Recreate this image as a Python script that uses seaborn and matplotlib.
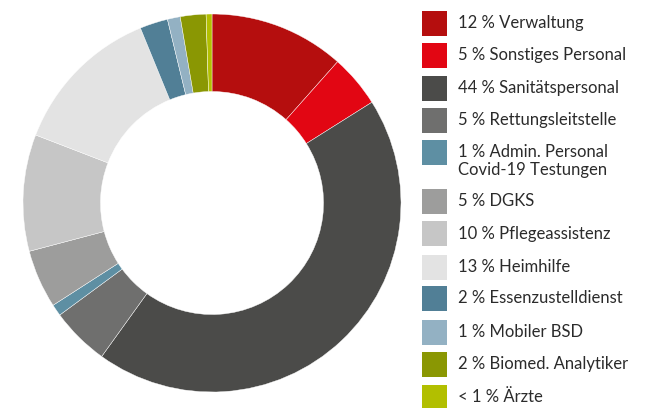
import matplotlib
matplotlib.use("Agg")
import matplotlib.pyplot as plt
from matplotlib.patches import Rectangle
import seaborn as sns

labels = ["12 % Verwaltung", "5 % Sonstiges Personal", "44 % Sanitätspersonal",
          "5 % Rettungsleitstelle", "1 % Admin. Personal\nCovid-19 Testungen",
          "5 % DGKS", "10 % Pflegeassistenz", "13 % Heimhilfe",
          "2 % Essenzustelldienst", "1 % Mobiler BSD",
          "2 % Biomed. Analytiker", "< 1 % Ärzte"]
shares = [11.6, 4.5, 44.0, 5.0, 1.0, 5.0, 10.0, 13.0, 2.4, 1.1, 2.2, 0.5]
colors = ["#B50E0E", "#E20613", "#4B4B49", "#6F6F6E", "#5E8FA3", "#9D9D9C",
          "#C6C6C6", "#E3E3E3", "#517F96", "#93B1C3", "#8A9703", "#B2BF00"]

sns.set_theme(style="white")
plt.rcParams['font.family'] = ['Lato', 'DejaVu Sans']

W, H = 651, 408
fig = plt.figure(figsize=(W / 100, H / 100), dpi=100)
ax = fig.add_axes([23 / W, 16 / H, 378 / W, 378 / H])

ax.pie(shares, colors=colors, startangle=90, counterclock=False,
       radius=1, wedgeprops=dict(width=0.41, edgecolor="white", linewidth=0.3))
ax.set_xlim(-1, 1)
ax.set_ylim(-1, 1)
ax.set_aspect("equal")
ax.axis("off")

# legend on the right, drawn by hand so the two-line entry keeps its square on line one
row_y = [23, 55, 88, 120, 152, 201, 234, 267, 298, 332, 364, 397]
for lab, col, y in zip(labels, colors, row_y):
    fig.add_artist(Rectangle((422 / W, 1 - (y + 12.5) / H), 25 / W, 25 / H,
                             transform=fig.transFigure, color=col, lw=0))
    lines = lab.split("\n")
    for k, line in enumerate(lines):
        fig.text(458 / W, 1 - (y + 18 * k) / H, line, fontsize=12,
                 color="#2b2b2b", va="center", ha="left")

fig.savefig("out.png", dpi=100)
